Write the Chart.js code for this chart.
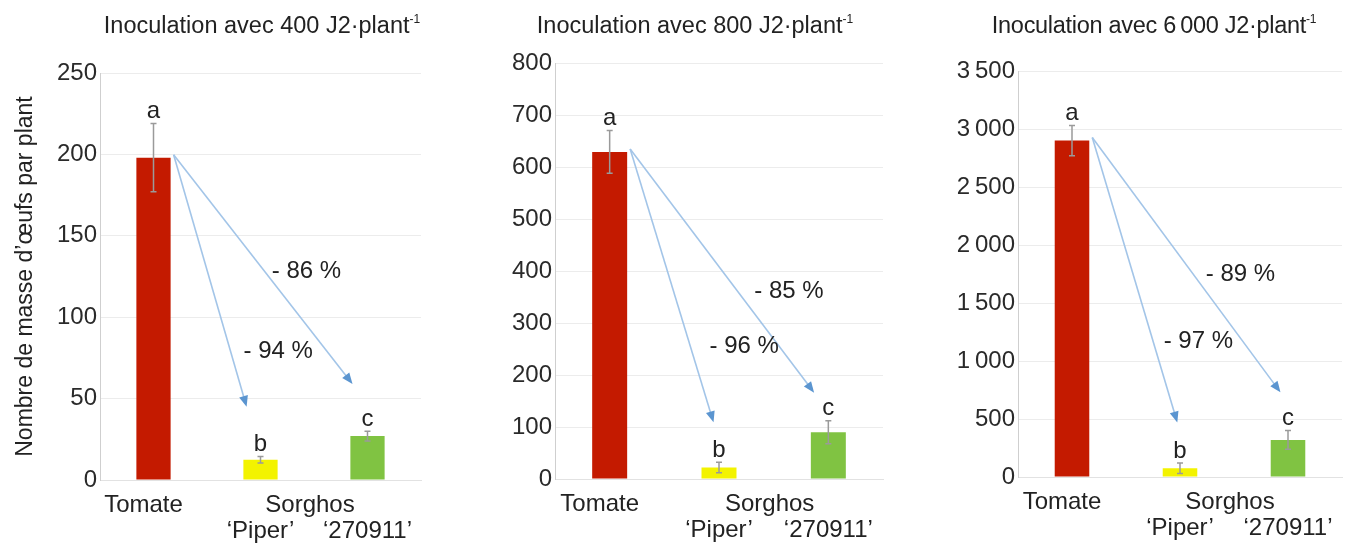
<!DOCTYPE html>
<html>
<head>
<meta charset="utf-8">
<script src="https://cdn.jsdelivr.net/npm/chart.js@4.4.1/dist/chart.umd.min.js"></script>
<style>
  body { margin: 0; background: #fff; width: 1352px; height: 545px; position: relative; overflow: hidden;
         font-family: "Liberation Sans", Arial, sans-serif; color: #222; }
  .panel { position: absolute; top: 0; height: 545px; }
  .title { position: absolute; top: 8px; font-size: 23.5px; line-height: 23px; white-space: nowrap; transform: translateX(-50%); }
  .title sup { font-size: 12px; vertical-align: 10px; }
</style>
</head>
<body>
<div class="panel" style="left:0;width:450px"><canvas id="c0"></canvas></div>
<div class="panel" style="left:450px;width:450px"><canvas id="c1"></canvas></div>
<div class="panel" style="left:900px;width:452px"><canvas id="c2"></canvas></div>
<div class="title" style="left:262px">Inoculation avec 400 J2·plant<sup>-1</sup></div>
<div class="title" style="left:695px">Inoculation avec 800 J2·plant<sup>-1</sup></div>
<div class="title" style="left:1154px;letter-spacing:-0.3px">Inoculation avec 6&#8201;000 J2·plant<sup>-1</sup></div>

<script>
const categories = ['Tomate', '‘Piper’', '‘270911’'];
const groupLabel = 'Sorghos';
const letters = ['a', 'b', 'c'];
const yTitle = 'Nombre de masse d’œufs par plant';

const means400 = [198, 12.5, 27];
const errors400 = [21, 2, 3];
const means800 = [629, 22, 90];
const errors800 = [41, 10, 22];
const means6000 = [2900, 75, 320];
const errors6000 = [130, 45, 80];

const yMax = [250, 800, 3500];
const yStep = [50, 100, 500];

// reductions vs tomato: [Piper, 270911]
const reduction400 = ['- 94 %', '- 86 %'];
const reduction800 = ['- 96 %', '- 85 %'];
const reduction6000 = ['- 97 %', '- 89 %'];
// arrow tips and label anchors, in (category index, value) units
const tips400 = [[0.87, 45], [1.86, 59]];
const tips800 = [[0.95, 109], [1.87, 166]];
const tips6000 = [[0.975, 470], [1.93, 730]];
const anchors400 = [[1.165, 79], [1.43, 128]];
const anchors800 = [[1.23, 255], [1.64, 360]];
const anchors6000 = [[1.17, 1172], [1.56, 1750]];

const barColors = ['#c41a00', '#f3f300', '#80c342'];
const FONT = '"Liberation Sans", Arial, sans-serif';
const FS = 24;
Chart.defaults.font.family = FONT;

function fmt(v) {
    if (v >= 1000) return Math.floor(v / 1000) + '\u2009' + String(v % 1000).padStart(3, '0');
    return String(v);
}

const overlay = {
    id: 'overlay',
    afterDatasetsDraw(chart, args, p) {
        const ctx = chart.ctx;
        const xs = chart.scales.x, ys = chart.scales.y;
        const bars = chart.getDatasetMeta(0).data;
        const bottom = chart.chartArea.bottom;
        ctx.save();

        // error bars + letters
        bars.forEach((bar, i) => {
            const top = ys.getPixelForValue(p.means[i] + p.errors[i]);
            const bot = ys.getPixelForValue(p.means[i] - p.errors[i]);
            ctx.strokeStyle = '#9a9a9a';
            ctx.lineWidth = 1.5;
            ctx.beginPath();
            ctx.moveTo(bar.x, top); ctx.lineTo(bar.x, bot);
            ctx.moveTo(bar.x - 3, top); ctx.lineTo(bar.x + 3, top);
            ctx.moveTo(bar.x - 3, bot); ctx.lineTo(bar.x + 3, bot);
            ctx.stroke();
            ctx.fillStyle = '#222';
            ctx.font = FS + 'px ' + FONT;
            ctx.textAlign = 'center';
            ctx.textBaseline = 'middle';
            ctx.fillText(letters[i], bar.x, top - 12);
        });

        // arrows from tomato bar to each sorghum
        const t = bars[0];
        const sx = t.x + t.width / 2 + 3, sy = t.y - 3;
        p.tips.forEach(([ix, v]) => {
            const ex = xs.getPixelForValue(ix), ey = ys.getPixelForValue(v);
            const ang = Math.atan2(ey - sy, ex - sx);
            ctx.strokeStyle = '#a3c5e8';
            ctx.lineWidth = 1.6;
            ctx.beginPath();
            ctx.moveTo(sx, sy);
            ctx.lineTo(ex - 8 * Math.cos(ang), ey - 8 * Math.sin(ang));
            ctx.stroke();
            ctx.fillStyle = '#5b95d0';
            ctx.beginPath();
            ctx.moveTo(ex, ey);
            ctx.lineTo(ex - 11 * Math.cos(ang) + 4.5 * Math.sin(ang), ey - 11 * Math.sin(ang) - 4.5 * Math.cos(ang));
            ctx.lineTo(ex - 11 * Math.cos(ang) - 4.5 * Math.sin(ang), ey - 11 * Math.sin(ang) + 4.5 * Math.cos(ang));
            ctx.closePath();
            ctx.fill();
        });

        // reduction labels
        ctx.fillStyle = '#222';
        ctx.font = FS + 'px ' + FONT;
        ctx.textAlign = 'center';
        ctx.textBaseline = 'middle';
        p.anchors.forEach(([ix, v], i) => {
            ctx.fillText(p.reductions[i], xs.getPixelForValue(ix), ys.getPixelForValue(v));
        });

        // category labels
        ctx.textBaseline = 'alphabetic';
        const x0 = xs.getPixelForValue(0), x1 = xs.getPixelForValue(1), x2 = xs.getPixelForValue(2);
        ctx.fillText(categories[0], x0 - 10, bottom + 32);
        ctx.fillText(groupLabel, (x1 + x2) / 2 - 4, bottom + 32);
        ctx.fillText(categories[1], x1, bottom + 58);
        ctx.fillText(categories[2], x2, bottom + 58);
        ctx.restore();
    }
};

const panels = [
    { means: means400, errors: errors400, tips: tips400, anchors: anchors400, reductions: reduction400,
      axisW: 100, padR: 29, padT: 73, bottomH: 65 },
    { means: means800, errors: errors800, tips: tips800, anchors: anchors800, reductions: reduction800,
      axisW: 105, padR: 17, padT: 63, bottomH: 66 },
    { means: means6000, errors: errors6000, tips: tips6000, anchors: anchors6000, reductions: reduction6000,
      axisW: 118, padR: 10, padT: 71, bottomH: 68 }
];

panels.forEach((p, k) => {
    new Chart(document.getElementById('c' + k), {
        type: 'bar',
        data: {
            labels: categories,
            datasets: [{
                data: p.means,
                backgroundColor: barColors,
                borderWidth: 0,
                barPercentage: 0.32,
                categoryPercentage: 1
            }]
        },
        options: {
            responsive: true,
            maintainAspectRatio: false,
            animation: false,
            layout: { padding: { left: 0, right: p.padR, top: p.padT, bottom: 0 } },
            plugins: {
                legend: { display: false },
                tooltip: { enabled: false },
                overlay: p
            },
            scales: {
                x: {
                    offset: true,
                    grid: { display: false, drawTicks: false },
                    border: { color: '#e2e2e2' },
                    ticks: { display: false },
                    afterFit(s) { s.height = p.bottomH; }
                },
                y: {
                    min: 0,
                    max: yMax[k],
                    ticks: { stepSize: yStep[k], color: '#2a2a2a', padding: 3,
                             font: { size: FS }, callback: v => fmt(v) },
                    grid: { color: '#ececec', drawTicks: false },
                    border: { color: '#cfcfcf' },
                    title: { display: k === 0, text: yTitle, color: '#222',
                             font: { size: 23 }, padding: { top: 12, bottom: 0 } },
                    afterFit(s) { s.width = p.axisW; }
                }
            }
        },
        plugins: [overlay]
    });
});
</script>
</body>
</html>
